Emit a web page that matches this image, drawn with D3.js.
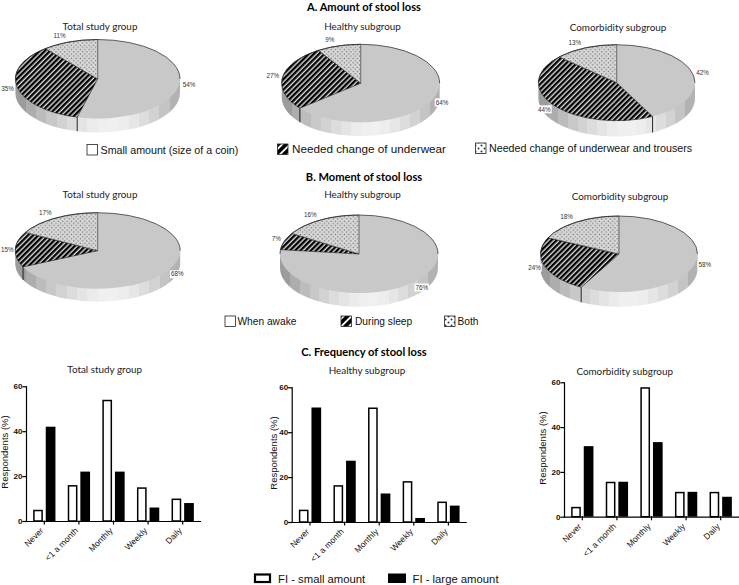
<!DOCTYPE html>
<html>
<head>
<meta charset="utf-8">
<script src="https://cdn.jsdelivr.net/npm/d3@7"></script>
<style>
  html, body { margin: 0; padding: 0; background: #fff; }
  svg { display: block; }
  .header { font: bold 11.1px Lato, sans-serif; text-anchor: middle; fill: #000; }
  .subtitle { font: 9.9px Lato, sans-serif; text-anchor: middle; fill: #222; }
  .pct { font: 6.3px "Liberation Sans", sans-serif; fill: #333; }
  .legend-text { font-family: "Liberation Sans", sans-serif; fill: #111; }
  .axis-label { font: 9.5px "Liberation Sans", sans-serif; text-anchor: middle; fill: #111; }
  .axis text { font-family: "Liberation Sans", sans-serif; fill: #111; }
  .axis path, .axis line { stroke: #000; stroke-width: 1.2; stroke-linecap: square; }
</style>
</head>
<body>
<div id="chart"></div>
<script>
// Pie values (%), clockwise from 12 o'clock
const amountTotal = [54, 35, 11];
const amountHealthy = [64, 27, 9];
const amountComorbid = [42, 44, 13];
const momentTotal = [68, 15, 17];
const momentHealthy = [76, 7, 16];
const momentComorbid = [58, 24, 18];

// Bar values (%)
const frequencies = ["Never", "<1 a month", "Monthly", "Weekly", "Daily"];
const seriesNames = ["small", "large"];
const smallTotal = [5, 16, 54, 15, 10];
const largeTotal = [42, 22, 22, 6, 8];
const smallHealthy = [5.5, 16.4, 51, 18.2, 9.1];
const largeHealthy = [51, 27.3, 12.7, 1.8, 7.3];
const smallComorbid = [4.4, 15.6, 57.8, 11.1, 11.1];
const largeComorbid = [31.5, 15.6, 33.3, 11.1, 8.9];
const yTicks = [0, 20, 40, 60];

// Text
const amountLegend = ["Small amount (size of a coin)", "Needed change of underwear", "Needed change of underwear and trousers"];
const momentLegend = ["When awake", "During sleep", "Both"];
const barLegend = ["FI - small amount", "FI - large amount"];

const svg = d3.select("#chart").append("svg")
    .attr("width", 739)
    .attr("height", 585);

const defs = svg.append("defs");

// Hatch and dot fills
function hatch(id, size, bg, black) {
  const p = defs.append("pattern")
      .attr("id", id)
      .attr("patternUnits", "userSpaceOnUse")
      .attr("width", size)
      .attr("height", size)
      .attr("patternTransform", "rotate(45)");
  p.append("rect").attr("width", size).attr("height", size).attr("fill", bg);
  p.append("rect").attr("width", size * black).attr("height", size).attr("fill", "#000");
}
hatch("hatch", 3.7, "#d8d8d8", 0.62);
hatch("hatchBig", 5.5, "#fff", 0.68);

function dots(id, size, bg, r) {
  const p = defs.append("pattern")
      .attr("id", id)
      .attr("patternUnits", "userSpaceOnUse")
      .attr("width", size)
      .attr("height", size);
  p.append("rect").attr("width", size).attr("height", size).attr("fill", bg);
  p.append("circle").attr("cx", size / 4).attr("cy", size / 4).attr("r", r).attr("fill", "#333");
  p.append("circle").attr("cx", size * 3 / 4).attr("cy", size * 3 / 4).attr("r", r).attr("fill", "#333");
}
dots("dots", 4.4, "#d6d6d6", 0.55);
dots("dotsBig", 6, "#fff", 1);

// Banded gradient for the side wall of the pies
const wallGrays = ["#9c9c9c", "#adadad", "#bcbcbc", "#c8c8c8", "#d2d2d2", "#dcdcdc", "#e4e4e4", "#ebebeb",
  "#efefef", "#f0f0f0", "#ededed", "#e6e6e6", "#dddddd", "#d2d2d2", "#c4c4c4", "#b2b2b2"];
const wall = defs.append("linearGradient").attr("id", "wall");
wallGrays.forEach((c, i) => {
  wall.append("stop").attr("offset", i / wallGrays.length).attr("stop-color", c);
  wall.append("stop").attr("offset", (i + 1) / wallGrays.length).attr("stop-color", c);
});

const sliceFills = ["#c8c8c8", "url(#hatch)", "url(#dots)"];
const swatchFills = ["#fff", "url(#hatchBig)", "url(#dotsBig)"];

function drawPie(values, o) {
  const g = svg.append("g");
  const pt = a => [o.cx + o.rx * Math.sin(a), o.cy - o.ry * Math.cos(a)];

  // Side wall: lower half of the ellipse pushed down by depth
  g.append("path")
      .attr("d", `M${o.cx - o.rx},${o.cy} L${o.cx - o.rx},${o.cy + o.depth}
        A${o.rx},${o.ry} 0 0 0 ${o.cx + o.rx},${o.cy + o.depth} L${o.cx + o.rx},${o.cy} Z`)
      .attr("fill", "url(#wall)");

  const arcs = d3.pie().sort(null).startAngle(0).endAngle(2 * Math.PI)(values);

  arcs.forEach((d, i) => {
    const [x0, y0] = pt(d.startAngle);
    const [x1, y1] = pt(d.endAngle);
    const large = d.endAngle - d.startAngle > Math.PI ? 1 : 0;
    g.append("path")
        .attr("d", `M${o.cx},${o.cy} L${x0},${y0} A${o.rx},${o.ry} 0 ${large} 1 ${x1},${y1} Z`)
        .attr("fill", sliceFills[i])
        .attr("stroke", i === 0 ? "none" : "#222")
        .attr("stroke-width", 0.6);

    // Slice border carried down the wall when it faces the viewer
    if (d.endAngle > Math.PI / 2 && d.endAngle < Math.PI * 1.5) {
      g.append("line")
          .attr("x1", x1).attr("x2", x1)
          .attr("y1", y1).attr("y2", y1 + o.depth)
          .attr("stroke", "#111")
          .attr("stroke-width", 0.9);
    }
  });

  // Dark line round the back of the rim
  g.append("path")
      .attr("d", `M${o.cx - o.rx},${o.cy} A${o.rx},${o.ry} 0 0 1 ${o.cx + o.rx},${o.cy}`)
      .attr("fill", "none")
      .attr("stroke", "#222")
      .attr("stroke-width", 0.7);

  // Percent labels around the pie, white box behind them
  arcs.forEach(d => {
    const mid = (d.startAngle + d.endAngle) / 2;
    const s = Math.sin(mid);
    const x = s >= 0 ? o.cx + (o.rx - 1) * s + 4.5 : Math.max(13.5, o.cx + (o.rx - 1) * s - 4.5);
    const y = o.cy - (o.ry + 6) * Math.cos(mid);
    g.append("rect")
        .attr("x", s >= 0 ? x - 1 : x - 13.5)
        .attr("y", y - 4)
        .attr("width", 14.5)
        .attr("height", 8)
        .attr("fill", "#fff");
    g.append("text")
        .attr("class", "pct")
        .attr("x", x)
        .attr("y", y)
        .attr("dy", "0.35em")
        .attr("text-anchor", s >= 0 ? "start" : "end")
        .text(d.value + "%");
  });
}

function drawBars(small, large, o) {
  const g = svg.append("g");
  const x = d3.scaleBand().domain(frequencies).range([o.x0 + 1, o.x0 + 174]);
  const sub = d3.scaleBand().domain(seriesNames).range([6.15, 28.45]).paddingInner(0.23);
  const y = d3.scaleLinear().domain([0, 60]).range([o.yBase, o.yTop]);

  frequencies.forEach((f, i) => {
    const w = sub.bandwidth();
    g.append("rect")
        .attr("x", x(f) + sub("small") + 0.75)
        .attr("y", y(small[i]) + 0.75)
        .attr("width", w - 1.5)
        .attr("height", y(0) - y(small[i]) - 0.75)
        .attr("fill", "#fff")
        .attr("stroke", "#000")
        .attr("stroke-width", 1.5);
    g.append("rect")
        .attr("x", x(f) + sub("large"))
        .attr("y", y(large[i]))
        .attr("width", w)
        .attr("height", y(0) - y(large[i]))
        .attr("fill", "#000");
  });

  // Axes
  g.append("g")
      .attr("class", "axis")
      .attr("transform", `translate(0,${o.yBase})`)
      .call(d3.axisBottom(x).tickSize(3).tickSizeOuter(0))
    .selectAll("text")
      .attr("font-size", 8.5)
      .attr("text-anchor", "end")
      .attr("dy", "0.5em")
      .attr("transform", "translate(-7.5,3) rotate(-45)");

  g.append("g")
      .attr("class", "axis")
      .attr("transform", `translate(${o.x0},0)`)
      .call(d3.axisLeft(y).tickValues(yTicks).tickSize(3).tickPadding(0.5).tickSizeOuter(0))
    .selectAll("text")
      .attr("font-size", 8)
      .attr("font-weight", "bold");

  g.append("text")
      .attr("class", "axis-label")
      .attr("transform", `translate(${o.labelX},${o.labelY}) rotate(-90)`)
      .text("Respondents (%)");
}

function subtitle(text, x, y) {
  svg.append("text").attr("class", "subtitle").attr("x", x).attr("y", y).text(text);
}
function header(text, y) {
  svg.append("text").attr("class", "header").attr("x", 364).attr("y", y).text(text);
}
function swatch(fill, x, y, w, h) {
  svg.append("rect")
      .attr("x", x).attr("y", y).attr("width", w).attr("height", h)
      .attr("fill", fill)
      .attr("stroke", "#222")
      .attr("stroke-width", 0.8);
}
function legendText(text, x, y, size) {
  svg.append("text").attr("class", "legend-text").attr("font-size", size).attr("x", x).attr("y", y).text(text);
}

// A. Amount of stool loss
header("A. Amount of stool loss", 11);
subtitle("Total study group", 100, 30);
subtitle("Healthy subgroup", 362.5, 30);
subtitle("Comorbidity subgroup", 618, 31);
drawPie(amountTotal, { cx: 97.7, cy: 79, rx: 82.3, ry: 39.5, depth: 14 });
drawPie(amountHealthy, { cx: 360.7, cy: 83.3, rx: 79, ry: 39, depth: 14 });
drawPie(amountComorbid, { cx: 616.7, cy: 82.7, rx: 78.3, ry: 38, depth: 16 });
swatch(swatchFills[0], 87, 144.5, 10.5, 10.5);
legendText(amountLegend[0], 100.5, 153.5, 10.7);
swatch(swatchFills[1], 277.5, 144, 10.5, 10.5);
legendText(amountLegend[1], 292, 153, 11.7);
swatch(swatchFills[2], 475.5, 143, 10.5, 10.5);
legendText(amountLegend[2], 489, 152, 10.7);

// B. Moment of stool loss
header("B. Moment of stool loss", 181);
subtitle("Total study group", 100, 198);
subtitle("Healthy subgroup", 362.5, 198);
subtitle("Comorbidity subgroup", 620, 200);
drawPie(momentTotal, { cx: 97.7, cy: 250.7, rx: 82.5, ry: 38, depth: 13 });
drawPie(momentHealthy, { cx: 359, cy: 254, rx: 79, ry: 39, depth: 14 });
drawPie(momentComorbid, { cx: 619, cy: 254, rx: 78.5, ry: 38, depth: 15 });
swatch(swatchFills[0], 225, 316, 10.5, 10.5);
legendText(momentLegend[0], 237.5, 324.5, 10.2);
swatch(swatchFills[1], 341, 316, 10.5, 10.5);
legendText(momentLegend[1], 355, 324.5, 10.2);
swatch(swatchFills[2], 444.5, 316, 10.5, 10.5);
legendText(momentLegend[2], 457.5, 324.5, 10.2);

// C. Frequency of stool loss
header("C. Frequency of stool loss", 356);
subtitle("Total study group", 104.7, 373);
subtitle("Healthy subgroup", 367, 374);
subtitle("Comorbidity subgroup", 624.7, 375);
drawBars(smallTotal, largeTotal, { x0: 26, yBase: 521, yTop: 386.3, labelX: 8, labelY: 452 });
drawBars(smallHealthy, largeHealthy, { x0: 291.7, yBase: 522, yTop: 387.3, labelX: 276.5, labelY: 453 });
drawBars(smallComorbid, largeComorbid, { x0: 564, yBase: 516.7, yTop: 382.3, labelX: 545.5, labelY: 448 });

svg.append("rect").attr("x", 255).attr("y", 574.5).attr("width", 15).attr("height", 7.5)
    .attr("fill", "#fff").attr("stroke", "#000").attr("stroke-width", 2.2);
legendText(barLegend[0], 278, 582.5, 11.3);
svg.append("rect").attr("x", 388).attr("y", 573.5).attr("width", 18).attr("height", 9.5).attr("fill", "#000");
legendText(barLegend[1], 412.5, 582.5, 11.3);
</script>
</body>
</html>
